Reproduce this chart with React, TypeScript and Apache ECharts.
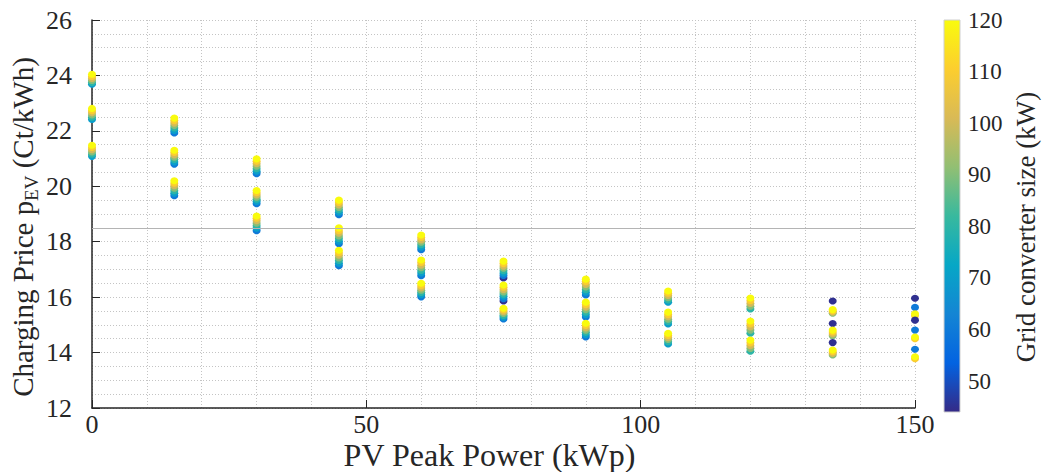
import React, { useEffect, useRef } from 'react';
import * as echarts from 'echarts';

// PV peak power (kWp) categories on the x axis
const pvPower = [0, 15, 30, 45, 60, 75, 90, 105, 120, 135, 150];
// grid converter sizes (kW) used for the colour dimension
const converterSizes = [45, 60, 70, 80, 90, 100, 110, 120];

// charging prices (Ct/kWh): three groups per PV value, aligned with converterSizes (null = no point)
const price0 = [
  [null, null, 23.68, 23.75, 23.82, 23.89, 23.96, 24.04],
  [null, null, 22.41, 22.49, 22.57, 22.65, 22.73, 22.81],
  [null, null, 21.08, 21.16, 21.24, 21.32, 21.4, 21.48],
];
const price15 = [
  [null, 21.92, 22.01, 22.1, 22.19, 22.28, 22.37, 22.46],
  [null, 20.8, 20.88, 20.97, 21.05, 21.13, 21.22, 21.3],
  [null, 19.66, 19.75, 19.84, 19.93, 20.02, 20.11, 20.2],
];
const price30 = [
  [null, 20.45, 20.54, 20.63, 20.72, 20.81, 20.9, 20.99],
  [null, 19.37, 19.45, 19.53, 19.61, 19.69, 19.77, 19.85],
  [null, 18.4, 18.49, 18.58, 18.67, 18.76, 18.85, 18.93],
];
const price45 = [
  [null, 18.97, 19.06, 19.15, 19.24, 19.33, 19.42, 19.5],
  [null, 17.93, 18.02, 18.12, 18.21, 18.31, 18.4, 18.5],
  [null, 17.13, 17.22, 17.32, 17.41, 17.51, 17.6, 17.69],
];
const price60 = [
  [null, 17.71, 17.8, 17.89, 17.98, 18.06, 18.15, 18.24],
  [null, 16.77, 16.87, 16.96, 17.06, 17.15, 17.25, 17.34],
  [null, 16.01, 16.09, 16.17, 16.25, 16.33, 16.41, 16.5],
];
const price75 = [
  [16.69, 16.78, 16.86, 16.95, 17.04, 17.12, 17.21, 17.3],
  [15.86, 15.94, 16.03, 16.11, 16.19, 16.27, 16.36, 16.44],
  [null, 15.21, 15.28, 15.34, 15.41, 15.47, 15.54, 15.6],
];
const price90 = [
  [null, 16.08, 16.18, 16.27, 16.37, 16.46, 16.56, 16.65],
  [null, 15.28, 15.37, 15.46, 15.55, 15.64, 15.73, 15.82],
  [null, 14.56, 14.64, 14.73, 14.81, 14.89, 14.98, 15.06],
];
const price105 = [
  [null, null, 15.82, 15.9, 15.98, 16.06, 16.14, 16.22],
  [null, null, 15.03, 15.12, 15.2, 15.29, 15.37, 15.46],
  [null, null, 14.31, 14.39, 14.47, 14.54, 14.62, 14.7],
];
const price120 = [
  [null, null, null, 15.57, 15.67, 15.77, 15.87, 15.97],
  [null, null, null, 14.7, 14.81, 14.92, 15.03, 15.14],
  [null, null, null, 14.05, 14.15, 14.25, 14.35, 14.45],
];
const price135 = [
  [15.86, null, null, null, 15.42, 15.46, 15.5, 15.55],
  [15.05, null, null, null, 14.61, 14.67, 14.74, 14.81],
  [14.36, null, null, null, 13.91, 13.97, 14.03, 14.09],
];
const price150 = [
  [15.96, 15.63, null, null, null, null, 15.33, 15.4],
  [15.17, 14.81, null, null, null, null, 14.5, 14.56],
  [null, 14.12, null, null, null, null, 13.78, 13.85],
];
const priceGroups = [price0, price15, price30, price45, price60, price75, price90, price105, price120, price135, price150];

const referencePrice = 18.5;
const colorRange = [44, 120];
const colorbarTicks = [50, 60, 70, 80, 90, 100, 110, 120];
const parula = ['#352a87', '#0363e1', '#1485d4', '#06a7c6', '#38b99e', '#92bf73', '#d9ba56', '#fcce2e', '#f9fb0e'];

const FONT = '"Liberation Serif", "Times New Roman", serif';
const TEXT = '#262626';
const GRID_LINE = { color: '#c4c4c4', type: [1, 2] as any, width: 1 };

export default function App() {
  const ref = useRef<HTMLDivElement>(null);

  useEffect(() => {
    if (!ref.current) return;
    const chart = echarts.init(ref.current, undefined, { renderer: 'svg' });

    const points: number[][] = [];
    pvPower.forEach((pv, i) => {
      priceGroups[i].forEach((group) => {
        group.forEach((p, k) => {
          if (p != null) points.push([pv, p as number, converterSizes[k]]);
        });
      });
    });

    const gradientStops = parula.map((c, i) => ({ offset: i / (parula.length - 1), color: c }));

    chart.setOption({
      animation: false,
      backgroundColor: '#ffffff',
      textStyle: { fontFamily: FONT },
      grid: [
        { left: 92, top: 20, width: 823, height: 388, outerBoundsMode: 'none' },
        { left: 944, top: 20, width: 16, height: 392, outerBoundsMode: 'none' },
      ],
      xAxis: [
        {
          gridIndex: 0,
          type: 'value',
          min: 0,
          max: 150,
          interval: 50,
          axisLine: { show: true, onZero: false, lineStyle: { color: TEXT, width: 1.5 } },
          axisTick: { show: true, inside: true, length: 8, lineStyle: { color: TEXT } },
          axisLabel: { color: TEXT, fontSize: 26, lineHeight: 22, margin: 5, fontFamily: FONT },
          splitLine: { show: true, lineStyle: GRID_LINE },
          minorTick: { show: false, splitNumber: 5 },
          minorSplitLine: { show: true, lineStyle: GRID_LINE },
          name: 'PV Peak Power (kWp)',
          nameLocation: 'middle',
          nameGap: 31,
          nameMoveOverlap: false,
          nameTextStyle: { fontSize: 32, color: TEXT, fontFamily: FONT, padding: [0, 28, 0, 0] },
        },
        { gridIndex: 1, type: 'value', min: 0, max: 1, show: false },
      ],
      yAxis: [
        {
          gridIndex: 0,
          type: 'value',
          min: 12,
          max: 26,
          interval: 2,
          axisLine: { show: true, onZero: false, lineStyle: { color: TEXT, width: 1.5 } },
          axisTick: { show: true, inside: true, length: 8, lineStyle: { color: TEXT } },
          axisLabel: { color: TEXT, fontSize: 26, margin: 20, fontFamily: FONT },
          splitLine: { show: true, lineStyle: GRID_LINE },
          minorTick: { show: false, splitNumber: 4 },
          minorSplitLine: { show: true, lineStyle: GRID_LINE },
          name: '{a|Charging Price p}{s|EV}{a| (Ct/kWh)}',
          nameLocation: 'middle',
          nameRotate: 90,
          nameGap: 51,
          nameMoveOverlap: false,
          nameTextStyle: {
            color: TEXT,
            fontFamily: FONT,
            padding: [0, 26, 0, 0],
            rich: {
              a: { fontSize: 29, fontFamily: FONT, color: TEXT },
              s: { fontSize: 19, fontFamily: FONT, color: TEXT, padding: [18, 0, 0, 0] },
            },
          },
        },
        {
          gridIndex: 1,
          type: 'value',
          position: 'right',
          min: colorRange[0],
          max: colorRange[1],
          splitNumber: 8,
          axisLine: { show: false },
          axisTick: { show: false },
          splitLine: { show: false },
          axisLabel: {
            color: TEXT,
            fontSize: 23,
            margin: 8,
            fontFamily: FONT,
            showMinLabel: false,
            formatter: (v: number) => (colorbarTicks.indexOf(v) >= 0 ? String(v) : ''),
          },
          name: 'Grid converter size (kW)',
          nameLocation: 'middle',
          nameRotate: 90,
          nameGap: 52,
          nameMoveOverlap: false,
          nameTextStyle: { fontSize: 27, color: TEXT, fontFamily: FONT, padding: [0, 22, 0, 0] },
        },
      ],
      visualMap: {
        type: 'continuous',
        show: false,
        seriesIndex: 0,
        dimension: 2,
        min: colorRange[0],
        max: colorRange[1],
        inRange: { color: parula },
      },
      series: [
        {
          type: 'scatter',
          xAxisIndex: 0,
          yAxisIndex: 0,
          symbol: 'circle',
          symbolSize: [8, 7],
          data: points,
          itemStyle: { opacity: 1 },
          markLine: {
            silent: true,
            symbol: 'none',
            label: { show: false },
            lineStyle: { color: '#b4b4b4', type: 'solid', width: 1 },
            data: [{ yAxis: referencePrice }],
          },
          z: 3,
        },
        {
          type: 'custom',
          xAxisIndex: 1,
          yAxisIndex: 1,
          silent: true,
          data: [[0, colorRange[0]]],
          renderItem: (params: any) => {
            const cs = params.coordSys;
            return {
              type: 'rect',
              shape: { x: cs.x, y: cs.y, width: cs.width, height: cs.height },
              style: {
                fill: new echarts.graphic.LinearGradient(0, 1, 0, 0, gradientStops),
                stroke: '#cfcfcf',
                lineWidth: 1,
              },
            };
          },
        },
      ],
    });

    return () => chart.dispose();
  }, []);

  return (
    <div
      ref={ref}
      style={{ position: 'absolute', left: 0, top: 0, width: 1046, height: 472 }}
    />
  );
}
